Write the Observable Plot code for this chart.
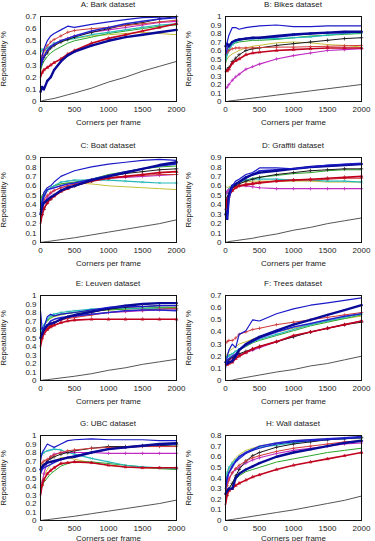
<!DOCTYPE html>
<html>
<head>
<meta charset="utf-8">
<script src="https://cdn.jsdelivr.net/npm/d3@7"></script>
<script src="https://cdn.jsdelivr.net/npm/@observablehq/plot@0.6"></script>
<style>
  html, body { margin: 0; padding: 0; background: #fff; }
  #charts { position: relative; width: 375px; height: 541px; overflow: hidden;
            font-family: "Liberation Sans", Arial, Helvetica, sans-serif; }
  .panel { position: absolute; }
  .panel .title { height: 12px; line-height: 12px; font-size: 8px; text-align: center; color: #222; white-space: nowrap; }
  .panel svg { display: block; overflow: visible; }
</style>
</head>
<body>
<div id="charts"></div>
<script>
// Corner budget (x) at which each repeatability value was sampled
const corners = [0, 25, 50, 100, 150, 200, 300, 400, 500, 750, 1000, 1250, 1500, 1750, 2000];
const xTicks = [0, 500, 1000, 1500, 2000];

// Series order (drawing order is set separately below)
const series = ["blueThin", "navy", "blueMid", "black", "cyan", "green", "olive", "redThin", "redThick", "magenta", "random"];

// Repeatability per dataset, one row per series (same order as `series`)
const bark = [
  [0.30,0.38,0.43,0.50,0.54,0.56,0.59,0.62,0.61,0.635,0.655,0.675,0.69,0.695,0.70],
  [0.08,0.12,0.10,0.17,0.20,0.26,0.33,0.38,0.41,0.46,0.50,0.53,0.55,0.57,0.59],
  [0.28,0.33,0.37,0.42,0.45,0.47,0.50,0.52,0.54,0.58,0.61,0.64,0.66,0.68,0.69],
  [0.28,0.33,0.36,0.40,0.44,0.46,0.49,0.51,0.53,0.57,0.60,0.63,0.65,0.68,0.70],
  [0.40,0.43,0.42,0.44,0.46,0.48,0.50,0.51,0.52,0.55,0.57,0.59,0.61,0.63,0.64],
  [0.25,0.30,0.33,0.37,0.40,0.42,0.45,0.48,0.50,0.53,0.56,0.58,0.60,0.62,0.63],
  [0.33,0.38,0.40,0.43,0.45,0.46,0.49,0.51,0.52,0.54,0.55,0.56,0.57,0.56,0.55],
  [0.33,0.38,0.42,0.46,0.49,0.51,0.54,0.57,0.585,0.60,0.61,0.625,0.64,0.655,0.67],
  [0.20,0.24,0.26,0.28,0.30,0.32,0.35,0.39,0.42,0.48,0.52,0.55,0.58,0.61,0.64],
  [0.30,0.35,0.38,0.42,0.45,0.47,0.50,0.52,0.54,0.57,0.59,0.61,0.63,0.65,0.66],
  [0,0.005,0.01,0.015,0.02,0.025,0.04,0.055,0.07,0.11,0.16,0.20,0.25,0.29,0.33]
];
const bikes = [
  [0.60,0.70,0.78,0.87,0.87,0.85,0.87,0.88,0.89,0.90,0.88,0.88,0.89,0.89,0.89],
  [0.65,0.68,0.65,0.70,0.72,0.73,0.74,0.75,0.75,0.77,0.79,0.80,0.81,0.82,0.82],
  [0.55,0.62,0.66,0.70,0.72,0.73,0.74,0.74,0.75,0.76,0.78,0.80,0.81,0.81,0.82],
  [0.35,0.38,0.40,0.47,0.51,0.55,0.60,0.62,0.63,0.66,0.68,0.70,0.72,0.74,0.75],
  [0.45,0.55,0.60,0.67,0.70,0.72,0.74,0.74,0.74,0.74,0.75,0.76,0.78,0.80,0.81],
  [0.50,0.58,0.62,0.67,0.69,0.70,0.71,0.72,0.72,0.73,0.75,0.77,0.78,0.79,0.80],
  [0.45,0.50,0.53,0.56,0.58,0.60,0.63,0.65,0.66,0.69,0.70,0.69,0.67,0.66,0.64],
  [0.55,0.58,0.60,0.62,0.63,0.63,0.63,0.63,0.635,0.64,0.64,0.645,0.65,0.655,0.66],
  [0.35,0.36,0.38,0.45,0.48,0.50,0.55,0.57,0.58,0.60,0.61,0.62,0.63,0.63,0.63],
  [0.15,0.17,0.20,0.25,0.29,0.32,0.38,0.41,0.44,0.50,0.54,0.57,0.60,0.61,0.62],
  [0,0,0.005,0.01,0.015,0.02,0.03,0.04,0.05,0.075,0.10,0.125,0.15,0.175,0.20]
];
const boat = [
  [0.35,0.45,0.53,0.58,0.60,0.64,0.70,0.73,0.76,0.80,0.83,0.85,0.87,0.88,0.87],
  [0.30,0.38,0.42,0.45,0.48,0.50,0.55,0.58,0.60,0.66,0.70,0.74,0.78,0.82,0.85],
  [0.35,0.42,0.48,0.56,0.57,0.58,0.60,0.62,0.63,0.67,0.71,0.75,0.78,0.81,0.83],
  [0.20,0.30,0.35,0.42,0.46,0.50,0.55,0.58,0.60,0.65,0.70,0.73,0.75,0.77,0.78],
  [0.40,0.46,0.50,0.55,0.58,0.60,0.64,0.65,0.66,0.66,0.66,0.65,0.64,0.63,0.63],
  [0.45,0.50,0.52,0.55,0.58,0.60,0.62,0.63,0.64,0.67,0.72,0.75,0.78,0.80,0.81],
  [0.45,0.50,0.53,0.56,0.58,0.60,0.62,0.63,0.63,0.62,0.60,0.59,0.58,0.57,0.56],
  [0.30,0.40,0.45,0.50,0.53,0.55,0.58,0.60,0.62,0.66,0.69,0.70,0.71,0.72,0.72],
  [0.20,0.30,0.36,0.42,0.46,0.49,0.54,0.57,0.60,0.65,0.68,0.70,0.72,0.74,0.75],
  [0.25,0.36,0.42,0.48,0.52,0.55,0.58,0.60,0.62,0.66,0.68,0.69,0.70,0.71,0.72],
  [0,0.003,0.006,0.01,0.015,0.02,0.03,0.04,0.05,0.08,0.11,0.14,0.17,0.20,0.24]
];
const graffiti = [
  [0.30,0.25,0.45,0.60,0.65,0.67,0.72,0.74,0.79,0.79,0.78,0.80,0.82,0.83,0.84],
  [0.30,0.25,0.50,0.60,0.62,0.64,0.69,0.72,0.74,0.76,0.78,0.80,0.81,0.82,0.83],
  [0.35,0.30,0.52,0.60,0.62,0.64,0.68,0.72,0.76,0.77,0.78,0.80,0.81,0.82,0.83],
  [0.40,0.48,0.52,0.58,0.60,0.62,0.65,0.67,0.69,0.72,0.74,0.76,0.77,0.78,0.78],
  [0.50,0.54,0.57,0.60,0.62,0.64,0.66,0.67,0.67,0.67,0.66,0.66,0.65,0.65,0.64],
  [0.50,0.54,0.57,0.60,0.62,0.64,0.66,0.68,0.69,0.71,0.73,0.74,0.76,0.77,0.77],
  [0.60,0.58,0.59,0.60,0.62,0.63,0.64,0.65,0.65,0.65,0.65,0.65,0.64,0.64,0.64],
  [0.30,0.42,0.48,0.55,0.58,0.60,0.62,0.63,0.64,0.65,0.66,0.66,0.67,0.68,0.68],
  [0.35,0.45,0.50,0.55,0.58,0.60,0.61,0.62,0.63,0.65,0.66,0.67,0.68,0.69,0.70],
  [0.50,0.54,0.56,0.58,0.59,0.60,0.60,0.59,0.58,0.57,0.57,0.57,0.57,0.57,0.57],
  [0,0.005,0.01,0.015,0.02,0.025,0.035,0.045,0.06,0.09,0.13,0.16,0.20,0.23,0.26]
];
const leuven = [
  [0.82,0.60,0.62,0.75,0.78,0.76,0.78,0.79,0.80,0.83,0.86,0.87,0.87,0.88,0.88],
  [0.50,0.55,0.60,0.65,0.67,0.68,0.72,0.75,0.77,0.81,0.85,0.88,0.90,0.91,0.91],
  [0.60,0.62,0.60,0.65,0.70,0.72,0.74,0.75,0.76,0.78,0.80,0.82,0.83,0.83,0.82],
  [0.50,0.55,0.58,0.62,0.65,0.68,0.72,0.74,0.76,0.80,0.84,0.86,0.87,0.88,0.88],
  [0.55,0.60,0.65,0.72,0.76,0.78,0.80,0.81,0.82,0.84,0.85,0.85,0.85,0.85,0.84],
  [0.50,0.60,0.65,0.70,0.74,0.76,0.78,0.79,0.80,0.82,0.83,0.84,0.85,0.86,0.86],
  [0.55,0.60,0.65,0.70,0.73,0.75,0.77,0.79,0.80,0.82,0.83,0.84,0.85,0.85,0.85],
  [0.45,0.52,0.57,0.62,0.65,0.68,0.71,0.73,0.74,0.77,0.80,0.82,0.83,0.84,0.85],
  [0.40,0.50,0.55,0.60,0.63,0.65,0.68,0.70,0.71,0.72,0.72,0.72,0.72,0.72,0.72],
  [0.45,0.53,0.57,0.62,0.65,0.68,0.72,0.74,0.75,0.78,0.80,0.81,0.82,0.83,0.83],
  [0,0.003,0.006,0.01,0.015,0.02,0.03,0.04,0.05,0.08,0.12,0.15,0.19,0.22,0.25]
];
const trees = [
  [0.10,0.20,0.25,0.30,0.27,0.38,0.41,0.50,0.49,0.55,0.59,0.62,0.64,0.66,0.68],
  [0.15,0.14,0.15,0.16,0.20,0.25,0.30,0.33,0.36,0.41,0.46,0.50,0.54,0.58,0.62],
  [0.15,0.16,0.18,0.20,0.22,0.25,0.29,0.32,0.35,0.40,0.44,0.47,0.50,0.53,0.55],
  [0.15,0.16,0.17,0.19,0.21,0.22,0.24,0.26,0.28,0.32,0.36,0.40,0.43,0.46,0.48],
  [0.18,0.19,0.20,0.22,0.24,0.26,0.29,0.32,0.34,0.38,0.42,0.46,0.49,0.52,0.55],
  [0.19,0.20,0.21,0.22,0.24,0.25,0.28,0.31,0.33,0.37,0.41,0.45,0.48,0.51,0.54],
  [0.20,0.22,0.24,0.26,0.28,0.30,0.32,0.34,0.36,0.40,0.43,0.46,0.49,0.51,0.53],
  [0.30,0.32,0.33,0.33,0.35,0.38,0.40,0.42,0.43,0.46,0.48,0.50,0.52,0.54,0.56],
  [0.13,0.13,0.14,0.15,0.18,0.20,0.23,0.26,0.28,0.32,0.37,0.40,0.43,0.46,0.49],
  [0.15,0.16,0.17,0.18,0.20,0.21,0.23,0.25,0.27,0.32,0.36,0.40,0.43,0.46,0.49],
  [0,0,0,0.002,0.01,0.015,0.025,0.035,0.045,0.07,0.09,0.12,0.14,0.17,0.20]
];
const ubc = [
  [0.70,0.80,0.83,0.90,0.88,0.86,0.90,0.94,0.95,0.96,0.95,0.95,0.95,0.94,0.94],
  [0.60,0.63,0.65,0.68,0.69,0.70,0.72,0.74,0.75,0.80,0.84,0.86,0.88,0.90,0.91],
  [0.55,0.60,0.62,0.64,0.66,0.68,0.72,0.74,0.76,0.80,0.84,0.86,0.88,0.89,0.90],
  [0.60,0.64,0.66,0.70,0.73,0.75,0.78,0.80,0.82,0.85,0.87,0.87,0.88,0.88,0.89],
  [0.75,0.78,0.80,0.82,0.83,0.84,0.83,0.80,0.78,0.73,0.69,0.65,0.63,0.62,0.61],
  [0.35,0.40,0.45,0.50,0.55,0.58,0.64,0.67,0.69,0.69,0.67,0.65,0.63,0.61,0.60],
  [0.40,0.48,0.53,0.60,0.66,0.70,0.74,0.74,0.72,0.68,0.65,0.63,0.62,0.61,0.61],
  [0.65,0.68,0.70,0.72,0.75,0.77,0.80,0.82,0.83,0.85,0.86,0.86,0.87,0.87,0.87],
  [0.30,0.42,0.48,0.55,0.59,0.62,0.67,0.68,0.69,0.68,0.65,0.63,0.62,0.62,0.62],
  [0.30,0.45,0.55,0.70,0.75,0.78,0.80,0.80,0.80,0.80,0.79,0.79,0.79,0.79,0.79],
  [0,0.003,0.006,0.01,0.015,0.02,0.03,0.04,0.05,0.08,0.11,0.14,0.17,0.20,0.24]
];
const wall = [
  [0.30,0.40,0.45,0.52,0.55,0.58,0.63,0.66,0.68,0.72,0.74,0.75,0.76,0.77,0.78],
  [0.25,0.28,0.30,0.30,0.40,0.44,0.48,0.51,0.54,0.60,0.64,0.67,0.70,0.73,0.75],
  [0.30,0.40,0.45,0.50,0.56,0.60,0.64,0.67,0.70,0.73,0.75,0.76,0.77,0.78,0.79],
  [0.25,0.28,0.30,0.35,0.42,0.48,0.56,0.61,0.64,0.69,0.72,0.74,0.76,0.77,0.78],
  [0.35,0.45,0.50,0.54,0.57,0.60,0.64,0.67,0.69,0.71,0.73,0.75,0.76,0.77,0.78],
  [0.20,0.26,0.30,0.35,0.39,0.42,0.46,0.48,0.50,0.55,0.58,0.61,0.64,0.66,0.68],
  [0.30,0.42,0.48,0.55,0.59,0.62,0.66,0.68,0.70,0.73,0.75,0.76,0.77,0.77,0.77],
  [0.25,0.33,0.38,0.45,0.49,0.52,0.56,0.59,0.61,0.65,0.68,0.70,0.72,0.74,0.75],
  [0.15,0.24,0.28,0.30,0.33,0.35,0.38,0.41,0.43,0.48,0.52,0.55,0.58,0.61,0.64],
  [0.25,0.35,0.40,0.45,0.48,0.50,0.54,0.57,0.59,0.63,0.66,0.68,0.70,0.72,0.73],
  [0,0.003,0.006,0.01,0.015,0.02,0.03,0.04,0.05,0.075,0.10,0.13,0.16,0.19,0.23]
];

const titles = ["A: Bark dataset", "B: Bikes dataset", "C: Boat dataset", "D: Graffiti dataset",
                "E: Leuven dataset", "F: Trees dataset", "G: UBC dataset", "H: Wall dataset"];
const ticks07 = [0, 0.1, 0.2, 0.3, 0.4, 0.5, 0.6, 0.7];
const ticks08 = [0, 0.1, 0.2, 0.3, 0.4, 0.5, 0.6, 0.7, 0.8];
const ticks09 = [0, 0.1, 0.2, 0.3, 0.4, 0.5, 0.6, 0.7, 0.8, 0.9];
const ticks10 = [0, 0.1, 0.2, 0.3, 0.4, 0.5, 0.6, 0.7, 0.8, 0.9, 1];

const panels = [
  {title: titles[0], values: bark,     yTicks: ticks07},
  {title: titles[1], values: bikes,    yTicks: ticks10},
  {title: titles[2], values: boat,     yTicks: ticks09},
  {title: titles[3], values: graffiti, yTicks: ticks09},
  {title: titles[4], values: leuven,   yTicks: ticks10},
  {title: titles[5], values: trees,    yTicks: ticks07},
  {title: titles[6], values: ubc,      yTicks: ticks10},
  {title: titles[7], values: wall,     yTicks: ticks08}
];

// Line and point-marker styling per series
const styles = {
  random:   {stroke: "#2a2a2a", width: 0.8},
  olive:    {stroke: "#c8c03a", width: 1},
  green:    {stroke: "#2aa52a", width: 1},
  cyan:     {stroke: "#26b8b8", width: 1.2, symbol: "times", r: 1.2},
  magenta:  {stroke: "#c02ac0", width: 1.1, symbol: "plus", r: 1.2},
  black:    {stroke: "#1a1a1a", width: 1, symbol: "plus", r: 1.3},
  redThin:  {stroke: "#d03838", width: 1, symbol: "plus", r: 1.2},
  redThick: {stroke: "#c0001c", width: 1.6, symbol: "triangle", r: 1.1},
  blueMid:  {stroke: "#2424d0", width: 1.5},
  navy:     {stroke: "#0a0a98", width: 2.4, symbol: "square", r: 1.1},
  blueThin: {stroke: "#1a1ac8", width: 1.2}
};
const drawOrder = ["random", "olive", "green", "cyan", "magenta", "black", "redThin", "redThick", "blueMid", "navy", "blueThin"];

// Panel placement in the 2 x 4 grid
const cols = [{left: 0, width: 188, marginRight: 12}, {left: 185, width: 190, marginRight: 14}];
const rowTops = [-1, 140, 278, 418];
const labelOffsets = [23, 23, 23, 20];

const root = document.getElementById("charts");

panels.forEach((p, i) => {
  const col = cols[i % 2];
  const row = Math.floor(i / 2);
  const yMax = p.yTicks[p.yTicks.length - 1];

  const rows = [];
  series.forEach((s, si) => {
    p.values[si].forEach((v, k) => rows.push({series: s, corners: corners[k], rep: v}));
  });

  const marks = [];
  for (const s of drawOrder) {
    const st = styles[s];
    const data = rows.filter(d => d.series === s);
    marks.push(Plot.line(data, {
      x: "corners", y: "rep",
      stroke: st.stroke, strokeWidth: st.width,
      strokeLinejoin: "round", strokeLinecap: "round"
    }));
    if (st.symbol) {
      const filled = st.symbol === "square";
      marks.push(Plot.dot(data.filter(d => d.corners > 0), {
        x: "corners", y: "rep", symbol: st.symbol, r: st.r,
        stroke: filled ? "none" : st.stroke, fill: filled ? st.stroke : "none", strokeWidth: 0.7
      }));
    }
  }

  const chart = Plot.plot({
    width: col.width,
    height: 120,
    marginTop: 5,
    marginBottom: 30,
    marginLeft: 40,
    marginRight: col.marginRight,
    style: {fontFamily: "'Liberation Sans', Arial, Helvetica, sans-serif", fontSize: "8px", color: "#222", background: "transparent", overflow: "visible"},
    x: {domain: [0, 2000]},
    y: {domain: [0, yMax]},
    marks: [
      Plot.axisX({ticks: xTicks, tickSize: 0, tickPadding: 5, tickFormat: d => String(d), label: "Corners per frame", labelAnchor: "center", labelOffset: labelOffsets[row], labelArrow: false}),
      Plot.axisY({ticks: p.yTicks, tickSize: 0, tickPadding: 4, tickFormat: d3.format("~g"), label: "Repeatability %", labelAnchor: "center", labelOffset: 40, labelArrow: false}),
      ...marks,
      Plot.frame({stroke: "#111", strokeWidth: 1})
    ]
  });

  const div = document.createElement("div");
  div.className = "panel";
  div.style.left = col.left + "px";
  div.style.top = rowTops[row] + "px";
  div.style.width = col.width + "px";
  const t = document.createElement("div");
  t.className = "title";
  t.style.marginLeft = "40px";
  t.style.width = (col.width - 40 - col.marginRight) + "px";
  t.textContent = p.title;
  div.appendChild(t);
  div.appendChild(chart);
  root.appendChild(div);
});
</script>
</body>
</html>
